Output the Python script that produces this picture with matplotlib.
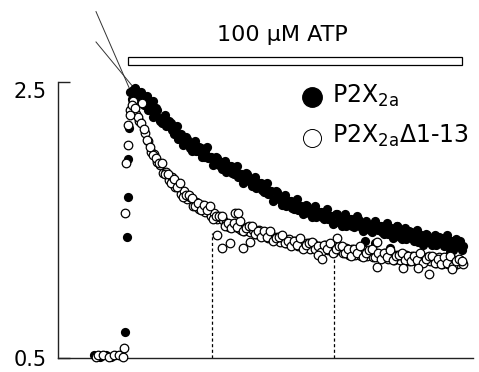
import matplotlib
matplotlib.use("Agg")
import matplotlib.pyplot as plt
from matplotlib.patches import Rectangle

plt.rcParams['font.family'] = ['DejaVu Sans']

# ---- data (time in s, current in arbitrary units) ----
# sweep A sample times
time_s = [18.0, 18.75, 19.5, 20.25, 21.0, 21.75, 22.5, 23.25, 24.0, 24.75,
          25.5, 26.25, 27.0, 27.75, 28.5, 29.25, 30.0, 30.75, 31.5, 32.25,
          33.0, 33.75, 34.5, 35.25, 36.0, 36.75, 37.5, 38.25, 39.0, 39.75,
          40.5, 41.25, 42.0, 42.75, 43.5, 44.25, 45.0, 45.75, 46.5, 47.25,
          48.0, 48.75, 49.5, 50.25, 51.0, 51.75, 52.5, 53.25, 54.0, 54.75,
          55.5, 56.25, 57.0, 57.75, 58.5, 59.25, 60.0, 60.75, 61.5, 62.25,
          63.0, 63.75, 64.5, 65.25, 66.0, 66.75, 67.5, 68.25, 69.0, 69.75,
          70.5, 71.25, 72.0, 72.75, 73.5, 74.25, 75.0, 75.75, 76.5, 77.25,
          78.0, 78.75, 79.5, 80.25, 81.0, 81.75, 82.5, 83.25, 84.0, 84.75,
          85.5, 86.25, 87.0, 87.75, 88.5, 89.25, 90.0, 90.75, 91.5, 92.25,
          93.0, 93.75, 94.5, 95.25, 96.0, 96.75, 97.5, 98.25, 99.0, 99.75,
          100.5, 101.25]

p2x2a = [2.43, 2.44, 2.39, 2.42, 2.36, 2.38, 2.30, 2.33, 2.27, 2.30,
         2.22, 2.24, 2.18, 2.22, 2.15, 2.16, 2.09, 2.12, 2.06, 2.09,
         2.02, 2.04, 2.00, 2.03, 1.96, 2.00, 1.95, 1.96, 1.91, 1.95,
         1.90, 1.92, 1.85, 1.89, 1.84, 1.88, 1.81, 1.83, 1.78, 1.83,
         1.78, 1.80, 1.73, 1.77, 1.72, 1.75, 1.69, 1.71, 1.65, 1.70,
         1.65, 1.66, 1.60, 1.64, 1.59, 1.63, 1.57, 1.60, 1.55, 1.60,
         1.55, 1.58, 1.52, 1.56, 1.52, 1.56, 1.51, 1.53, 1.48, 1.54,
         1.49, 1.52, 1.46, 1.51, 1.46, 1.51, 1.51, 1.45, 1.47, 1.47,
         1.43, 1.47, 1.45, 1.46, 1.41, 1.46, 1.40, 1.44, 1.43, 1.46,
         1.38, 1.42, 1.36, 1.42, 1.37, 1.40, 1.34, 1.39, 1.35, 1.39,
         1.34, 1.36, 1.32, 1.38, 1.33, 1.36, 1.31, 1.35, 1.35, 1.31,
         1.35, 1.31]

p2x2a_d113 = [2.30, 2.36, 2.27, 2.22, 2.35, 2.13, 2.07, 1.99, 1.98, 1.92,
              1.90, 1.84, 1.85, 1.79, 1.81, 1.74, 1.76, 1.69, 1.71, 1.65,
              1.67, 1.60, 1.63, 1.58, 1.61, 1.56, 1.59, 1.53, 1.55, 1.51,
              1.52, 1.50, 1.48, 1.45, 1.47, 1.47, 1.44, 1.43, 1.42, 1.45,
              1.41, 1.43, 1.40, 1.43, 1.39, 1.41, 1.37, 1.39, 1.36, 1.38,
              1.34, 1.37, 1.33, 1.36, 1.32, 1.35, 1.31, 1.34, 1.30, 1.33,
              1.29, 1.33, 1.29, 1.31, 1.28, 1.32, 1.28, 1.31, 1.27, 1.30,
              1.30, 1.26, 1.30, 1.25, 1.29, 1.25, 1.29, 1.24, 1.28, 1.24,
              1.27, 1.23, 1.26, 1.23, 1.23, 1.26, 1.22, 1.26, 1.21, 1.25,
              1.21, 1.24, 1.25, 1.20, 1.24, 1.20, 1.21, 1.24, 1.20, 1.23,
              1.20, 1.23, 1.19, 1.23, 1.18, 1.22, 1.18, 1.22, 1.21, 1.18,
              1.21, 1.18]

# sweep B sample times (interleaved)
time2_s = [18.375, 19.125, 19.875, 20.625, 21.375, 22.125, 22.875, 23.625, 24.375, 25.125,
           25.875, 26.625, 27.375, 28.125, 28.875, 29.625, 30.375, 31.125, 31.875, 32.625,
           33.375, 34.125, 34.875, 35.625, 36.375, 37.125, 37.875, 38.625, 39.375, 40.125,
           40.875, 41.625, 42.375, 43.125, 43.875, 44.625, 45.375, 46.125, 46.875, 47.625,
           48.375, 49.125, 49.875, 50.625, 51.375, 52.125, 52.875, 53.625, 54.375, 55.125,
           55.875, 56.625, 57.375, 58.125, 58.875, 59.625, 60.375, 61.125, 61.875, 62.625,
           63.375, 64.125, 64.875, 65.625, 66.375, 67.125, 67.875, 68.625, 69.375, 70.125,
           70.875, 71.625, 72.375, 73.125, 73.875, 74.625, 75.375, 76.125, 76.875, 77.625,
           78.375, 79.125, 79.875, 80.625, 81.375, 82.125, 82.875, 83.625, 84.375, 85.125,
           85.875, 86.625, 87.375, 88.125, 88.875, 89.625, 90.375, 91.125, 91.875, 92.625,
           93.375, 94.125, 94.875, 95.625, 96.375, 97.125, 97.875, 98.625, 99.375, 100.125,
           100.875]

p2x2a_b = [2.38, 2.46, 2.39, 2.40, 2.33, 2.39, 2.32, 2.25, 2.31, 2.24,
           2.20, 2.26, 2.19, 2.20, 2.12, 2.18, 2.11, 2.04, 2.10, 2.04,
           2.00, 2.07, 2.00, 2.02, 1.96, 2.03, 1.96, 1.90, 1.96, 1.90,
           1.87, 1.93, 1.87, 1.89, 1.83, 1.89, 1.83, 1.77, 1.84, 1.78,
           1.75, 1.81, 1.75, 1.77, 1.70, 1.77, 1.71, 1.64, 1.71, 1.65,
           1.61, 1.68, 1.62, 1.64, 1.58, 1.65, 1.59, 1.54, 1.61, 1.55,
           1.52, 1.60, 1.54, 1.56, 1.51, 1.58, 1.53, 1.47, 1.54, 1.49,
           1.46, 1.54, 1.48, 1.51, 1.45, 1.53, 1.47, 1.42, 1.49, 1.44,
           1.41, 1.49, 1.43, 1.46, 1.40, 1.48, 1.42, 1.37, 1.44, 1.39,
           1.36, 1.44, 1.38, 1.41, 1.35, 1.43, 1.37, 1.32, 1.40, 1.34,
           1.32, 1.39, 1.34, 1.37, 1.31, 1.39, 1.34, 1.28, 1.36, 1.31,
           1.28]

p2x2a_d113_b = [2.33, 2.31, 2.25, 2.20, 2.16, 2.08, 2.03, 1.97, 1.95, 1.91,
                1.91, 1.83, 1.83, 1.77, 1.80, 1.74, 1.77, 1.67, 1.68, 1.68,
                1.66, 1.60, 1.62, 1.57, 1.61, 1.57, 1.60, 1.51, 1.53, 1.53,
                1.53, 1.46, 1.48, 1.44, 1.48, 1.45, 1.49, 1.42, 1.44, 1.46,
                1.46, 1.40, 1.42, 1.38, 1.42, 1.38, 1.42, 1.35, 1.37, 1.38,
                1.39, 1.33, 1.35, 1.31, 1.35, 1.32, 1.37, 1.29, 1.32, 1.33,
                1.34, 1.29, 1.31, 1.27, 1.32, 1.29, 1.33, 1.26, 1.29, 1.31,
                1.31, 1.26, 1.29, 1.24, 1.29, 1.26, 1.31, 1.23, 1.26, 1.28,
                1.29, 1.23, 1.26, 1.22, 1.26, 1.23, 1.28, 1.21, 1.24, 1.25,
                1.26, 1.21, 1.24, 1.20, 1.24, 1.21, 1.26, 1.19, 1.22, 1.24,
                1.24, 1.19, 1.22, 1.18, 1.23, 1.19, 1.24, 1.17, 1.20, 1.22,
                1.20]

# baseline, rising phase and scattered extra points
filled_extra_t = [9.0, 10.5, 12.0, 13.25, 14.5, 15.5, 16.75, 17.25, 17.5, 17.5, 17.75,
                  19.25, 20.75, 22.25, 23.75, 75.0, 76.75, 79.25, 83.0, 84.75, 98.0]
filled_extra_v = [0.52, 0.51, 0.52, 0.51, 0.52, 0.52, 0.69, 1.38, 1.67, 1.94, 2.17,
                  2.45, 2.43, 2.40, 2.36, 1.51, 1.35, 1.33, 1.30, 1.46, 1.27]
open_extra_t = [9.5, 10.0, 11.25, 12.75, 14.0, 15.25, 16.25, 16.5, 16.75, 17.0, 17.5, 17.5, 18.0,
                39.75, 41.0, 43.0, 44.25, 45.0, 46.25, 48.0, 65.0, 66.0, 69.75,
                79.75, 79.75, 86.25, 90.0, 92.75, 98.5]
open_extra_v = [0.51, 0.52, 0.52, 0.51, 0.52, 0.52, 0.51, 0.57, 1.55, 1.91, 2.04, 2.19, 2.26,
                1.39, 1.30, 1.33, 1.55, 1.55, 1.30, 1.34, 1.25, 1.22, 1.37,
                1.16, 1.34, 1.15, 1.15, 1.11, 1.145]

# extrapolated fit lines
fit_a_t = [9.5, 18.5]
fit_a_v = [3.01, 2.41]
fit_b_t = [9.5, 19.75]
fit_b_v = [2.79, 2.43]

# dashed markers (time, value)
mark_t = [38.5, 69.0]
mark_v = [1.406, 1.254]

# ATP application bar
atp_start, atp_end = 17.5, 101.0

# ---- figure ----
fig = plt.figure(figsize=(4.79, 3.72), dpi=100)
ax = fig.add_axes([58 / 479, 14 / 372, 415 / 479, 276 / 372])
ax.set_xlim(0, 103.75)
ax.set_ylim(0.5, 2.5)

for s in ['top', 'right']:
    ax.spines[s].set_visible(False)
for s in ['left', 'bottom']:
    ax.spines[s].set_linewidth(1.0)
    ax.spines[s].set_color('#222222')
ax.set_xticks([])
ax.set_yticks([0.5, 2.5])
ax.set_yticklabels(['0.5', '2.5'])
ax.tick_params(axis='y', direction='in', length=8.6, width=1.0, color='#222222',
               labelsize=15, pad=8)
ax.get_yticklabels()[1].set_va('top')

FS = 44   # filled marker area
OS = 38   # open marker area

# data
ax.scatter(time_s + time2_s, p2x2a + p2x2a_b, s=FS, c='black', linewidths=0,
           clip_on=False, zorder=3)
ax.scatter(filled_extra_t, filled_extra_v, s=FS, c='black', linewidths=0,
           clip_on=False, zorder=3)
ax.scatter(time_s + time2_s, p2x2a_d113 + p2x2a_d113_b, s=OS, facecolors='white',
           edgecolors='black', linewidths=0.9, clip_on=False, zorder=4)
ax.scatter(open_extra_t, open_extra_v, s=OS, facecolors='white', edgecolors='black',
           linewidths=0.9, clip_on=False, zorder=4)

# fit lines
ax.plot(fit_a_t, fit_a_v, color='#333333', lw=0.7, clip_on=False, zorder=2)
ax.plot(fit_b_t, fit_b_v, color='#333333', lw=0.7, clip_on=False, zorder=2)

# dashed verticals
for t, v in zip(mark_t, mark_v):
    ax.plot([t, t], [0.5, v], color='black', lw=0.9, ls=(0, (2.5, 2)), zorder=1)

# ATP bar
ax.add_patch(Rectangle((atp_start, 2.623), atp_end - atp_start, 0.058,
                       facecolor='white', edgecolor='black', lw=0.9, clip_on=False))
ax.text(56, 2.84, '100 μM ATP', ha='center', va='center', fontsize=16)

# legend
ax.plot([0.612], [0.9457], 'o', ms=14, mfc='black', mec='black',
        transform=ax.transAxes, clip_on=False)
ax.plot([0.612], [0.797], 'o', ms=13, mfc='white', mec='black', mew=0.7,
        transform=ax.transAxes, clip_on=False)
ax.text(0.6595, 0.924, r'P2X$_\mathregular{2a}$', fontsize=17, ha='left',
        va='baseline', transform=ax.transAxes)
ax.text(0.6595, 0.779, r'P2X$_\mathregular{2a}$Δ1-13', fontsize=17, ha='left',
        va='baseline', transform=ax.transAxes)

fig.savefig('out.png', dpi=100)
